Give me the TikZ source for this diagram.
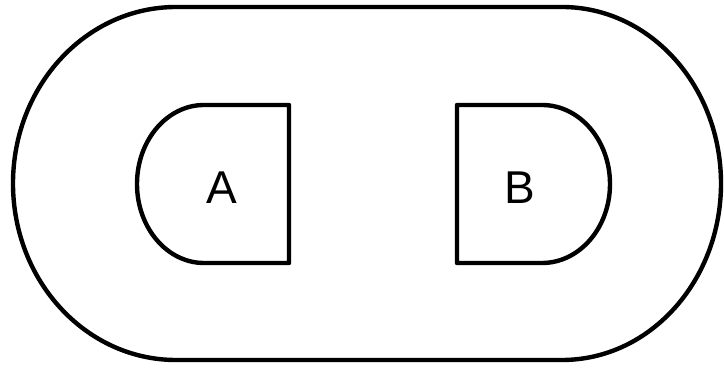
\documentclass[tikz,border=0pt]{standalone}
\usepackage{fontspec}
\setmainfont{Liberation Sans}
\begin{document}
\begin{tikzpicture}[x=1pt,y=1pt,
  outline/.style={draw=black,line width=4.4pt,line join=round},
  lbl/.style={font=\fontsize{46}{46}\selectfont,inner sep=0pt}]
\useasboundingbox (0,0) rectangle (724,372);
% outer stadium
\draw[outline] (176,365) -- (562,365)
  arc[start angle=90,end angle=-90,x radius=159,y radius=176.5]
  -- (176,12)
  arc[start angle=270,end angle=90,x radius=163,y radius=176.5] -- cycle;
% A shape
\draw[outline] (289,267) -- (204,267)
  arc[start angle=90,end angle=270,x radius=67,y radius=79]
  -- (289,109) -- cycle;
% B shape
\draw[outline] (457,267) -- (542,267)
  arc[start angle=90,end angle=-90,x radius=68,y radius=79]
  -- (457,109) -- cycle;
\node[lbl] (A) at (222,184) {A};
\node[lbl] (B) at (520,184) {B};
\end{tikzpicture}
\end{document}
